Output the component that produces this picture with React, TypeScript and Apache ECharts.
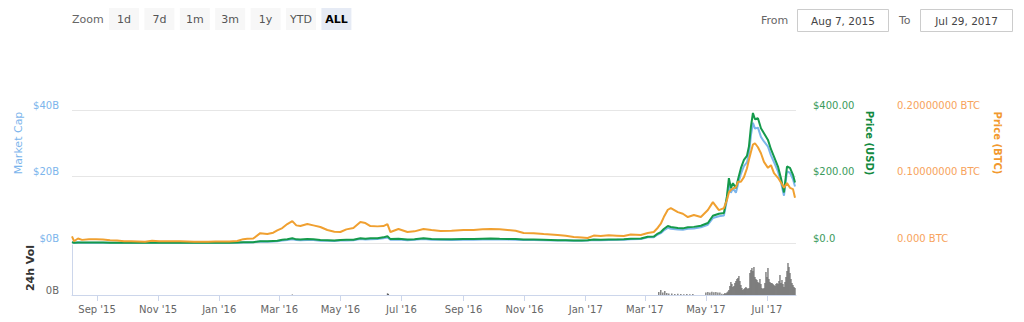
import React, { useEffect, useRef } from "react";
import * as echarts from "echarts";

// ---- data ----
const dates = [
  "2015-08-07","2015-08-09","2015-08-13","2015-08-17","2015-08-24","2015-08-31","2015-09-07","2015-09-14","2015-09-21","2015-09-28",
  "2015-10-05","2015-10-12","2015-10-19","2015-10-26","2015-11-02","2015-11-09","2015-11-16","2015-11-23","2015-11-30","2015-12-07",
  "2015-12-14","2015-12-21","2015-12-28","2016-01-04","2016-01-11","2016-01-19","2016-01-25","2016-01-29","2016-02-04","2016-02-11",
  "2016-02-18","2016-02-24","2016-02-28","2016-03-04","2016-03-09","2016-03-14","2016-03-18","2016-03-22","2016-03-29","2016-04-04",
  "2016-04-11","2016-04-18","2016-04-25","2016-05-01","2016-05-07","2016-05-14","2016-05-21","2016-05-26","2016-05-31","2016-06-07",
  "2016-06-13","2016-06-17","2016-06-20","2016-06-28","2016-07-07","2016-07-14","2016-07-23","2016-07-31","2016-08-09","2016-08-20",
  "2016-09-01","2016-09-11","2016-09-20","2016-09-28","2016-10-07","2016-10-15","2016-10-23","2016-10-31","2016-11-10","2016-11-20",
  "2016-12-04","2016-12-12","2016-12-20","2016-12-28","2017-01-03","2017-01-09","2017-01-16","2017-01-24","2017-02-01","2017-02-08",
  "2017-02-15","2017-02-25","2017-03-04","2017-03-10","2017-03-14","2017-03-17","2017-03-20","2017-03-24","2017-03-27","2017-04-03",
  "2017-04-08","2017-04-13","2017-04-19","2017-04-26","2017-05-03","2017-05-08","2017-05-14","2017-05-19","2017-05-22","2017-05-24",
  "2017-05-26","2017-05-28","2017-05-31","2017-06-02","2017-06-05","2017-06-08","2017-06-11","2017-06-13","2017-06-15","2017-06-17",
  "2017-06-19","2017-06-22","2017-06-25","2017-06-28","2017-07-02","2017-07-05","2017-07-08","2017-07-12","2017-07-15","2017-07-18",
  "2017-07-21","2017-07-24","2017-07-27","2017-07-29",
];

const priceUsd = [
  2.77, 0.71, 1.8, 1.2, 1.25, 1.35, 1.25, 0.95, 0.9, 0.65,
  0.62, 0.6, 0.5, 0.95, 1.0, 0.95, 0.93, 0.9, 0.88, 0.8,
  0.9, 0.87, 0.9, 0.95, 1.0, 1.3, 2.3, 2.4, 2.6, 5.6,
  5.0, 6.2, 7.0, 9.5, 11.5, 14.5, 11.0, 10.5, 11.8, 11.2,
  8.7, 8.5, 7.5, 8.9, 9.5, 10.0, 14.5, 12.7, 14.0, 14.5,
  17.0, 20.5, 11.7, 12.5, 10.5, 11.5, 14.5, 12.0, 11.5, 11.0,
  12.0, 12.0, 13.0, 13.2, 12.5, 12.0, 11.8, 10.8, 10.5, 10.0,
  8.5, 8.3, 7.6, 7.8, 8.5, 10.3, 9.8, 10.6, 10.7, 11.4,
  12.9, 13.3, 19.0, 19.3, 28.5, 33.0, 42.0, 51.0, 48.0, 45.0,
  44.0, 47.5, 48.5, 52.0, 60.0, 82.0, 88.0, 90.0, 140.0, 195.0,
  165.0, 180.0, 165.0, 190.0, 225.0, 250.0, 262.0, 290.0, 350.0, 391.0,
  372.0, 375.0, 345.0, 330.0, 310.0, 282.0, 260.0, 230.0, 195.0, 152.0,
  230.0, 226.0, 205.0, 182.0,
];

const priceBtc = [
  0.01, 0.0027, 0.0068, 0.0047, 0.0055, 0.0058, 0.0052, 0.0041, 0.0039, 0.0028,
  0.0026, 0.0024, 0.0019, 0.0033, 0.0028, 0.0026, 0.0027, 0.0025, 0.0023, 0.002,
  0.002, 0.002, 0.0021, 0.0022, 0.0023, 0.003, 0.0058, 0.0063, 0.0068, 0.0148,
  0.0135, 0.0155, 0.019, 0.0225, 0.0285, 0.033, 0.0265, 0.0255, 0.0285, 0.0265,
  0.024, 0.0195, 0.017, 0.0165, 0.0205, 0.0225, 0.0315, 0.03, 0.0255, 0.025,
  0.0255, 0.0285, 0.0165, 0.021, 0.0165, 0.0175, 0.021, 0.0195, 0.018, 0.0185,
  0.0195, 0.0195, 0.0205, 0.021, 0.0205, 0.0195, 0.0185, 0.015, 0.0148, 0.0135,
  0.012, 0.0108, 0.009, 0.0082, 0.0075, 0.0112, 0.0105, 0.0115, 0.011, 0.0105,
  0.0128, 0.012, 0.015, 0.0165, 0.023, 0.029, 0.039, 0.05, 0.0525, 0.0465,
  0.044, 0.039, 0.042, 0.039, 0.0495, 0.0615, 0.0495, 0.0525, 0.0645, 0.076,
  0.08, 0.082, 0.084, 0.092, 0.092, 0.099, 0.112, 0.125, 0.137, 0.148,
  0.15, 0.144, 0.135, 0.122, 0.113, 0.117, 0.105, 0.098, 0.091, 0.083,
  0.09, 0.083, 0.081, 0.068,
];

const marketCapB = [
  0.2, 0.05, 0.13, 0.09, 0.09, 0.1, 0.09, 0.07, 0.07, 0.05,
  0.05, 0.04, 0.04, 0.07, 0.07, 0.07, 0.07, 0.07, 0.07, 0.06,
  0.07, 0.07, 0.07, 0.07, 0.08, 0.1, 0.18, 0.18, 0.2, 0.44,
  0.39, 0.48, 0.55, 0.75, 0.91, 1.15, 0.87, 0.83, 0.93, 0.9,
  0.7, 0.68, 0.6, 0.72, 0.76, 0.81, 1.17, 1.02, 1.13, 1.18,
  1.39, 1.67, 0.95, 1.02, 0.86, 0.94, 1.19, 0.98, 0.95, 0.91,
  1.01, 1.01, 1.09, 1.11, 1.06, 1.02, 1.0, 0.92, 0.9, 0.86,
  0.74, 0.72, 0.66, 0.67, 0.74, 0.9, 0.85, 0.92, 0.94, 1.0,
  1.14, 1.17, 1.7, 1.73, 2.55, 2.95, 3.76, 4.56, 4.3, 4.07,
  3.98, 4.3, 4.39, 4.71, 5.49, 7.5, 8.05, 8.24, 12.81, 17.84,
  15.1, 16.47, 15.1, 17.58, 20.81, 23.13, 24.24, 26.83, 32.38, 36.17,
  34.41, 34.69, 31.91, 30.53, 28.99, 26.37, 24.31, 21.51, 18.23, 14.21,
  21.51, 21.13, 19.17, 17.02,
];

const volSparseDates = [
  "2016-03-14","2016-06-17","2016-06-18",
  "2017-03-15","2017-03-17","2017-03-19","2017-03-21","2017-03-23","2017-03-25","2017-03-28","2017-03-31",
  "2017-04-03","2017-04-06","2017-04-09","2017-04-12","2017-04-15","2017-04-18",
  "2017-05-01","2017-05-03","2017-05-05","2017-05-07","2017-05-09","2017-05-11","2017-05-13","2017-05-15","2017-05-17","2017-05-19",
];
const volSparseB = [
  0.02, 0.08, 0.06,
  0.15, 0.25, 0.12, 0.2, 0.1, 0.08, 0.07, 0.05,
  0.06, 0.05, 0.04, 0.05, 0.04, 0.05,
  0.12, 0.15, 0.13, 0.16, 0.14, 0.15, 0.13, 0.12, 0.06, 0.05,
];
// daily volumes from 2017-05-20 to 2017-07-29
const volDailyStart = "2017-05-20";
const volDailyB = [
  0.1, 0.08, 0.12, 0.18, 0.25, 0.45, 0.65, 0.55, 0.4, 0.45, 0.6, 0.7,
  0.8, 0.85, 0.95, 0.7, 0.5, 0.35, 0.25, 0.3, 0.35, 0.4, 0.35, 0.3, 0.35,
  1.1, 1.25, 1.35, 1.2, 1.4, 0.9, 0.8, 0.75, 0.65, 0.6, 0.8, 0.55, 0.35, 0.3, 0.35, 0.6, 1.15,
  0.9, 1.35, 0.8, 0.65, 0.6, 0.6, 0.55, 0.5, 0.45, 0.55, 0.6, 0.55, 0.7, 1.0, 0.6, 0.75, 0.55,
  0.4, 0.65, 0.9, 1.2, 1.6, 1.4, 1.1, 0.8, 0.6, 0.5, 0.4, 0.35,
];

const tickDates = [
  "2015-09-01","2015-11-01","2016-01-01","2016-03-01","2016-05-01","2016-07-01",
  "2016-09-01","2016-11-01","2017-01-01","2017-03-01","2017-05-01","2017-07-01",
];
const tickLabels = [
  "Sep '15","Nov '15","Jan '16","Mar '16","May '16","Jul '16",
  "Sep '16","Nov '16","Jan '17","Mar '17","May '17","Jul '17",
];
const zoomButtons = ["1d", "7d", "1m", "3m", "1y", "YTD", "ALL"];
const fromDate = "Aug 7, 2015";
const toDate = "Jul 29, 2017";
const rangeStart = "2015-08-07";
const rangeEnd = "2017-07-30";

// ---- helpers ----
const ts = (s: string) => {
  const [y, m, d] = s.split("-").map(Number);
  return Date.UTC(y, m - 1, d);
};
const DAY = 86400000;

const FONT = "DejaVu Sans";

export default function App() {
  const ref = useRef<HTMLDivElement>(null);

  useEffect(() => {
    if (!ref.current) return;
    const chart = echarts.init(ref.current, undefined, { renderer: "svg" });

    const tickTs = tickDates.map(ts);
    const pairs = (vals: number[]) => dates.map((d, i) => [ts(d), vals[i]]);
    const dailyStart = ts(volDailyStart);
    const volData = [
      ...volSparseDates.map((d, i) => [ts(d), volSparseB[i]]),
      ...volDailyB.map((v, i) => [dailyStart + i * DAY, v]),
    ];

    const graphics: any[] = [];
    graphics.push({
      type: "text", x: 72, y: 19,
      style: { text: "Zoom", fill: "#666", font: `11px ${FONT}`, align: "left", verticalAlign: "middle" },
    });
    zoomButtons.forEach((b, i) => {
      const bx = 109 + i * 35.4;
      const active = b === "ALL";
      graphics.push({
        type: "rect",
        shape: { x: bx, y: 8, width: 30, height: 22, r: 0 },
        style: { fill: active ? "#e6ebf5" : "#f7f7f7" },
      });
      graphics.push({
        type: "text", x: bx + 15, y: 19,
        style: {
          text: b, fill: active ? "#000" : "#555",
          font: `${active ? "bold " : ""}11px ${FONT}`, align: "center", verticalAlign: "middle",
        },
      });
    });
    graphics.push({
      type: "text", x: 761, y: 20,
      style: { text: "From", fill: "#666", font: `11px ${FONT}`, align: "left", verticalAlign: "middle" },
    });
    graphics.push({
      type: "rect", shape: { x: 797.5, y: 9.5, width: 91, height: 22 },
      style: { fill: "#fff", stroke: "#cccccc", lineWidth: 1 },
    });
    graphics.push({
      type: "text", x: 843, y: 20.5,
      style: { text: fromDate, fill: "#444", font: `10.5px ${FONT}`, align: "center", verticalAlign: "middle" },
    });
    graphics.push({
      type: "text", x: 899, y: 20,
      style: { text: "To", fill: "#666", font: `11px ${FONT}`, align: "left", verticalAlign: "middle" },
    });
    graphics.push({
      type: "rect", shape: { x: 920.5, y: 9.5, width: 92, height: 22 },
      style: { fill: "#fff", stroke: "#cccccc", lineWidth: 1 },
    });
    graphics.push({
      type: "text", x: 966.5, y: 20.5,
      style: { text: toDate, fill: "#444", font: `10.5px ${FONT}`, align: "center", verticalAlign: "middle" },
    });
    // axis titles
    graphics.push({
      type: "text", x: 18, y: 143, rotation: Math.PI / 2,
      style: { text: "Market Cap", fill: "#7cb5ec", font: `11px ${FONT}`, align: "center", verticalAlign: "middle" },
    });
    graphics.push({
      type: "text", x: 30, y: 268, rotation: Math.PI / 2,
      style: { text: "24h Vol", fill: "#333", font: `bold 11px ${FONT}`, align: "center", verticalAlign: "middle" },
    });
    graphics.push({
      type: "text", x: 869, y: 143, rotation: -Math.PI / 2,
      style: { text: "Price (USD)", fill: "#138a3f", font: `bold 10px ${FONT}`, align: "center", verticalAlign: "middle" },
    });
    graphics.push({
      type: "text", x: 997, y: 143, rotation: -Math.PI / 2,
      style: { text: "Price (BTC)", fill: "#f2992e", font: `bold 10px ${FONT}`, align: "center", verticalAlign: "middle" },
    });

    const yLabel = (color: string, margin: number, extra: any = {}) => ({
      color, fontSize: 10, fontFamily: FONT, margin, verticalAlign: "bottom", ...extra,
    });

    const option: any = {
      animation: false,
      textStyle: { fontFamily: FONT },
      graphic: graphics,
      grid: [
        { left: 72, width: 724, top: 110, height: 133 },
        { left: 72, width: 724, top: 245, height: 50 },
      ],
      xAxis: [
        { type: "value", gridIndex: 0, min: ts(rangeStart), max: ts(rangeEnd), show: false, splitLine: { show: false } },
        {
          type: "value", gridIndex: 1, min: ts(rangeStart), max: ts(rangeEnd),
          axisLine: { show: true, lineStyle: { color: "#ccd6eb", width: 1 } },
          axisTick: { show: true, length: 6, customValues: tickTs, lineStyle: { color: "#ccd6eb" } },
          axisLabel: {
            customValues: tickTs,
            formatter: (v: number) => {
              const i = tickTs.indexOf(v);
              return i >= 0 ? tickLabels[i] : "";
            },
            color: "#666", fontSize: 10, fontFamily: FONT, margin: 9,
          },
          splitLine: { show: false },
        },
      ],
      yAxis: [
        {
          type: "value", gridIndex: 0, position: "left", min: 0, max: 40, interval: 20,
          axisLine: { show: false }, axisTick: { show: false },
          splitLine: { show: true, lineStyle: { color: "#e6e6e6" } },
          axisLabel: yLabel("#7cb5ec", 13, { formatter: (v: number) => `$${v}B` }),
        },
        {
          type: "value", gridIndex: 0, position: "right", min: 0, max: 400, interval: 200,
          axisLine: { show: false }, axisTick: { show: false }, splitLine: { show: false },
          axisLabel: yLabel("#3b9a5c", 17, {
            align: "left",
            formatter: (v: number) => (v === 0 ? "$0.0" : `$${v.toFixed(2)}`),
          }),
        },
        {
          type: "value", gridIndex: 0, position: "right", offset: 84, min: 0, max: 0.2, interval: 0.1,
          axisLine: { show: false }, axisTick: { show: false }, splitLine: { show: false },
          axisLabel: yLabel("#f7a35c", 17, {
            align: "left",
            formatter: (v: number) => (v === 0 ? "0.000 BTC" : `${v.toFixed(8)} BTC`),
          }),
        },
        {
          type: "value", gridIndex: 1, position: "left", min: 0, max: 2.5, interval: 2.5,
          axisLine: { show: true, lineStyle: { color: "#ccd6eb" } }, axisTick: { show: false },
          splitLine: { show: false },
          axisLabel: yLabel("#666", 13, { formatter: (v: number) => (v === 0 ? "0B" : "") }),
        },
      ],
      series: [
        {
          name: "Market Cap", type: "line", xAxisIndex: 0, yAxisIndex: 0, data: pairs(marketCapB),
          symbol: "none", lineStyle: { color: "#7cb5ec", width: 2 }, itemStyle: { color: "#7cb5ec" },
        },
        {
          name: "Price (USD)", type: "line", xAxisIndex: 0, yAxisIndex: 1, data: pairs(priceUsd),
          symbol: "none", lineStyle: { color: "#149a4b", width: 2 }, itemStyle: { color: "#149a4b" },
        },
        {
          name: "Price (BTC)", type: "line", xAxisIndex: 0, yAxisIndex: 2, data: pairs(priceBtc),
          symbol: "none", lineStyle: { color: "#f0a030", width: 2 }, itemStyle: { color: "#f0a030" },
        },
        {
          name: "24h Vol", type: "bar", xAxisIndex: 1, yAxisIndex: 3, data: volData,
          barWidth: 1.2, itemStyle: { color: "#666" },
        },
      ],
    };

    chart.setOption(option);
    return () => chart.dispose();
  }, []);

  return (
    <div
      ref={ref}
      style={{ position: "absolute", left: 0, top: 0, width: 1024, height: 322, background: "#fff" }}
    />
  );
}
